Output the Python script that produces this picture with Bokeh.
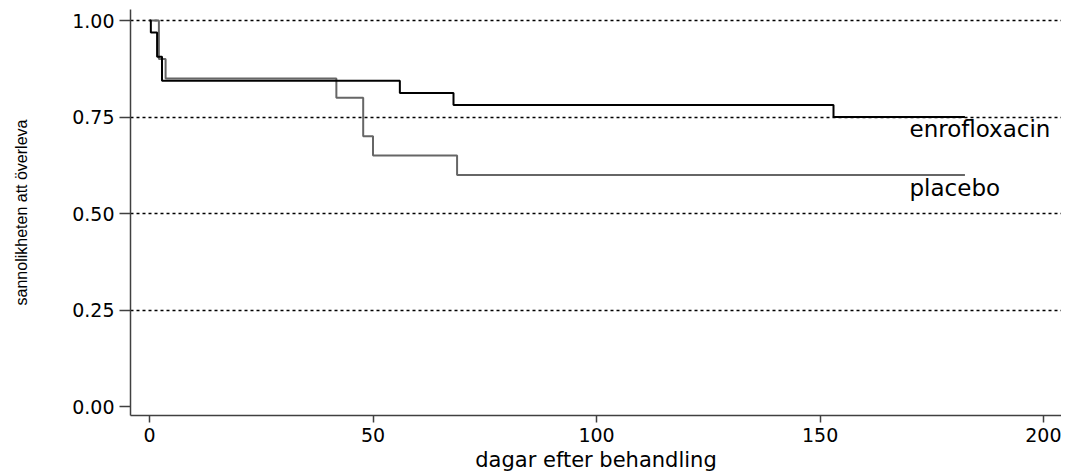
from bokeh.plotting import figure
from bokeh.models import Range1d, FixedTicker, PrintfTickFormatter
from bokeh.core.properties import value
from bokeh.embed import file_html
from bokeh.resources import INLINE

# Kaplan-Meier data
groups = ["enrofloxacin", "placebo"]
enro_days = [0, 0.3, 1.7, 2.8, 56, 68, 153, 182.4]
enro_surv = [1.0, 0.969, 0.906, 0.844, 0.812, 0.781, 0.75, 0.75]
plac_days = [0, 2.1, 3.6, 41.8, 47.8, 50, 68.8, 182.4]
plac_surv = [1.0, 0.90, 0.85, 0.80, 0.70, 0.65, 0.60, 0.60]
x_ticks = [0, 50, 100, 150, 200]
y_ticks = [0, 0.25, 0.5, 0.75, 1.0]
grid_ticks = [0.25, 0.5, 0.75, 1.0]

p = figure(width=1061, height=474, output_backend="svg", toolbar_location=None,
           x_range=Range1d(-4.25, 204.0), y_range=Range1d(-0.0233, 1.0285),
           min_border_left=130, min_border_right=0, min_border_top=9,
           min_border_bottom=40)
p.outline_line_color = None
p.background_fill_color = "white"
p.border_fill_color = "white"

p.xgrid.visible = False
p.ygrid.ticker = FixedTicker(ticks=grid_ticks)
p.ygrid.grid_line_color = "black"
p.ygrid.grid_line_dash = "3 3"
p.ygrid.grid_line_width = 1.5

axis_col = "#404040"
for ax in (p.xaxis[0], p.yaxis[0]):
    ax.axis_line_color = axis_col
    ax.axis_line_width = 1.5
    ax.major_tick_line_color = axis_col
    ax.major_tick_line_width = 1.5
    ax.minor_tick_line_color = None
    ax.major_tick_in = 0
    ax.major_label_text_font = "DejaVu Sans"
    ax.major_label_text_font_size = "19px"
    ax.major_label_text_color = "black"
    ax.axis_label_text_font_style = "normal"
    ax.axis_label_text_color = "black"

p.xaxis.ticker = FixedTicker(ticks=x_ticks)
p.xaxis.major_tick_out = 7
p.xaxis.major_label_standoff = 5
p.xaxis.axis_label = "dagar efter behandling"
p.xaxis.axis_label_text_font = "DejaVu Sans"
p.xaxis.axis_label_text_font_size = "21px"
p.xaxis.axis_label_standoff = 3

p.yaxis.ticker = FixedTicker(ticks=y_ticks)
p.yaxis.formatter = PrintfTickFormatter(format="%.2f")
p.yaxis.major_tick_out = 11
p.yaxis.major_label_standoff = 5
p.yaxis.major_label_orientation = "horizontal"
p.yaxis.axis_label = "sannolikheten att överleva"
p.yaxis.axis_label_text_font = "Liberation Sans"
p.yaxis.axis_label_text_font_size = "16px"
p.yaxis.axis_label_standoff = 39

p.step(plac_days, plac_surv, mode="after", line_color="#666666", line_width=2)
p.step(enro_days, enro_surv, mode="after", line_color="black", line_width=2)

p.text(x=[enro_days[-1] - 12.4, plac_days[-1] - 12.4],
       y=[enro_surv[-1] - 0.032, plac_surv[-1] - 0.035],
       text=groups, text_align="left", text_baseline="middle",
       text_font=value("DejaVu Sans"), text_font_size="23px", text_color="black")

open("out.html", "w").write(file_html(p, INLINE))
